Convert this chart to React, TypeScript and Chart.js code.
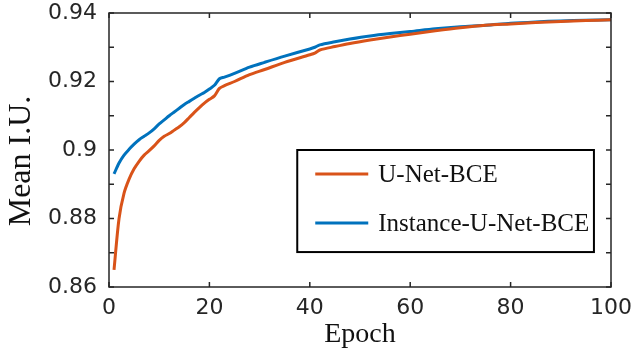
import React, { useEffect, useRef } from "react";
import { Chart, registerables } from "chart.js";

Chart.register(...registerables);

const seriesNames = ["U-Net-BCE", "Instance-U-Net-BCE"];
const seriesColors = ["#D95319", "#0072BD"];

const epochs = [1, 2, 3, 4, 5, 6, 7, 8, 9, 10, 11, 12, 13, 14, 15, 16, 17, 18, 19, 20, 21, 22, 23, 25, 28, 31, 35, 40, 41, 42, 45, 48, 52, 56, 60, 65, 70, 75, 80, 85, 90, 95, 100];

const unetBce = [0.8650, 0.8800, 0.8874, 0.8915, 0.8945, 0.8967, 0.8985, 0.8998, 0.9012, 0.9028, 0.9040, 0.9048, 0.9058, 0.9068, 0.9080, 0.9095, 0.9110, 0.9124, 0.9137, 0.9148, 0.9158, 0.9180, 0.9188, 0.9200, 0.9220, 0.9235, 0.9256, 0.9278, 0.9283, 0.9292, 0.9302, 0.9311, 0.9321, 0.9330, 0.9338, 0.9348, 0.9357, 0.9364, 0.9368, 0.9372, 0.9375, 0.9378, 0.9380];

const instanceUnetBce = [0.8930, 0.8962, 0.8985, 0.9002, 0.9017, 0.9030, 0.9040, 0.9050, 0.9062, 0.9076, 0.9088, 0.9100, 0.9111, 0.9122, 0.9133, 0.9142, 0.9151, 0.9160, 0.9168, 0.9178, 0.9189, 0.9208, 0.9213, 0.9224, 0.9242, 0.9256, 0.9274, 0.9295, 0.9300, 0.9307, 0.9316, 0.9324, 0.9333, 0.9340, 0.9346, 0.9354, 0.9360, 0.9364, 0.9370, 0.9374, 0.9377, 0.9379, 0.9380];

const xTickValues = [0, 20, 40, 60, 80, 100];
const yTickValues = [0.86, 0.88, 0.9, 0.92, 0.94];
const yTickLabels = ["0.86", "0.88", "0.9", "0.92", "0.94"];

const xTitle = "Epoch";
const yTitle = "Mean I.U.";

const AXIS_COLOR = "#262626";

const boxPlugin = {
  id: "matlabBox",
  afterDraw(chart: any) {
    const { ctx, chartArea } = chart;
    const { left, right, top, bottom } = chartArea;
    const xs = chart.scales.x;
    const ys = chart.scales.y;
    ctx.save();
    ctx.strokeStyle = AXIS_COLOR;
    ctx.lineWidth = 1.5;
    ctx.strokeRect(left, top, right - left, bottom - top);
    const tl = 5;
    ctx.beginPath();
    xs.ticks.forEach((t: any) => {
      const px = xs.getPixelForValue(t.value);
      ctx.moveTo(px, bottom);
      ctx.lineTo(px, bottom - tl);
      ctx.moveTo(px, top);
      ctx.lineTo(px, top + tl);
    });
    ys.ticks.forEach((t: any) => {
      const py = ys.getPixelForValue(t.value);
      ctx.moveTo(left, py);
      ctx.lineTo(left + tl, py);
      ctx.moveTo(right, py);
      ctx.lineTo(right - tl, py);
    });
    ctx.stroke();

    // y title
    ctx.fillStyle = "#111";
    ctx.font = "32px 'Liberation Serif'";
    ctx.textAlign = "center";
    ctx.textBaseline = "middle";
    ctx.translate(22, 161);
    ctx.rotate(-Math.PI / 2);
    ctx.fillText(yTitle, 0, 0);
    ctx.restore();

    // legend box
    ctx.save();
    const bx = xs.getPixelForValue(37.5);
    const bx2 = xs.getPixelForValue(96.6);
    const by = ys.getPixelForValue(0.9);
    const by2 = ys.getPixelForValue(0.8702);
    ctx.fillStyle = "#fff";
    ctx.fillRect(bx, by, bx2 - bx, by2 - by);
    ctx.strokeStyle = "#000";
    ctx.lineWidth = 2;
    ctx.strokeRect(bx, by, bx2 - bx, by2 - by);
    ctx.font = "25px 'Liberation Serif'";
    ctx.textAlign = "left";
    ctx.textBaseline = "alphabetic";
    chart.data.datasets.forEach((ds: any, i: number) => {
      const cy = by + 24 + i * 49;
      ctx.strokeStyle = ds.borderColor;
      ctx.lineWidth = 3;
      ctx.beginPath();
      ctx.moveTo(bx + 18, cy);
      ctx.lineTo(bx + 71, cy);
      ctx.stroke();
      ctx.fillStyle = "#111";
      ctx.fillText(ds.label, bx + 81, cy + 8);
    });
    ctx.restore();
  },
};

export default function App() {
  const ref = useRef<HTMLCanvasElement | null>(null);
  useEffect(() => {
    if (!ref.current) return;
    const mk = (vals: number[]) => epochs.map((e, i) => ({ x: e, y: vals[i] }));
    const chart = new Chart(ref.current, {
      type: "line",
      data: {
        datasets: [
          {
            label: seriesNames[0],
            data: mk(unetBce),
            borderColor: seriesColors[0],
            backgroundColor: seriesColors[0],
            borderWidth: 3,
            pointRadius: 0,
            tension: 0.3,
            fill: false,
          },
          {
            label: seriesNames[1],
            data: mk(instanceUnetBce),
            borderColor: seriesColors[1],
            backgroundColor: seriesColors[1],
            borderWidth: 3,
            pointRadius: 0,
            tension: 0.3,
            fill: false,
          },
        ],
      },
      options: {
        animation: false,
        responsive: false,
        layout: { padding: { left: 0, top: 13, right: 22, bottom: 0 } },
        plugins: { legend: { display: false }, tooltip: { enabled: false } },
        scales: {
          x: {
            type: "linear",
            min: 0,
            max: 100,
            afterBuildTicks: (s: any) => {
              s.ticks = xTickValues.map((v) => ({ value: v }));
            },
            afterFit: (s: any) => {
              s.height = 67;
              s.paddingLeft = 0;
              s.paddingRight = 0;
            },
            grid: { display: false, drawTicks: false },
            border: { display: false },
            ticks: {
              padding: 8,
              color: AXIS_COLOR,
              font: { family: "'DejaVu Sans'", size: 22 },
              maxRotation: 0,
              callback: (v: any) => String(v),
            },
            title: {
              display: true,
              text: xTitle,
              color: "#111",
              font: { family: "'Liberation Serif'", size: 28, lineHeight: 1.2 },
              padding: { top: 0, bottom: 3 },
            },
          },
          y: {
            type: "linear",
            min: 0.86,
            max: 0.94,
            afterFit: (s: any) => {
              s.width = 109;
              s.paddingTop = 0;
              s.paddingBottom = 0;
            },
            grid: { display: false, drawTicks: false },
            border: { display: false },
            ticks: {
              stepSize: 0.01,
              padding: 12,
              color: AXIS_COLOR,
              font: { family: "'DejaVu Sans'", size: 22 },
              callback: (v: any) => {
                const idx = yTickValues.findIndex((t) => Math.abs(t - Number(v)) < 1e-6);
                return idx >= 0 ? yTickLabels[idx] : "";
              },
            },
          },
        },
      },
      plugins: [boxPlugin],
    });
    return () => chart.destroy();
  }, []);
  return (
    <div style={{ position: "fixed", left: 0, top: 0, width: 633, height: 354, background: "#fff" }}>
      <canvas ref={ref} width={633} height={354} />
    </div>
  );
}
